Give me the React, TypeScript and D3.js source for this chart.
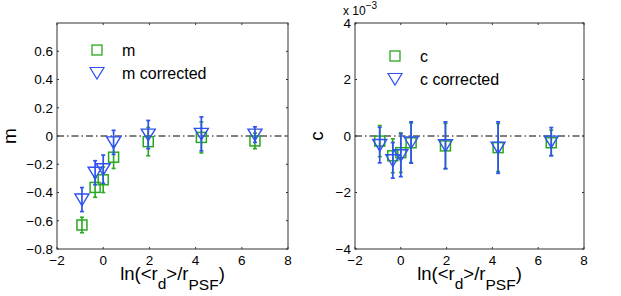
import React from 'react';
import * as d3 from 'd3';

// x positions: ln(<r_d>/r_PSF)
const lnRatio = [-0.92, -0.35, 0.0, 0.45, 1.95, 4.25, 6.57];

// left panel: m
const mVals = [-0.63, -0.364, -0.31, -0.15, -0.04, -0.01, -0.035];
const mErr = [0.055, 0.07, 0.09, 0.08, 0.1, 0.11, 0.055];
const mCorr = [-0.45, -0.26, -0.235, -0.045, 0.01, 0.015, 0.01];
const mCorrErr = [0.085, 0.085, 0.1, 0.085, 0.1, 0.12, 0.055];

// right panel: c (units of 1e-3)
const cVals = [-0.18, -0.7, -0.59, -0.24, -0.35, -0.41, -0.24];
const cErr = [0.55, 0.6, 0.7, 0.7, 0.8, 0.85, 0.45];
const cCorr = [-0.32, -0.86, -0.68, -0.23, -0.33, -0.41, -0.2];
const cCorrErr = [0.63, 0.63, 0.76, 0.73, 0.83, 0.91, 0.5];

const xTicks = [-2, 0, 2, 4, 6, 8];
const mTicks = [-0.8, -0.6, -0.4, -0.2, 0, 0.2, 0.4, 0.6];
const cTicks = [-4, -2, 0, 2, 4];

const GREEN = '#2aa81f';
const BLUE = '#2f52f0';
const FONT = '"Liberation Sans", Arial, sans-serif';

type PanelProps = {
  left: number;
  right: number;
  yDomain: [number, number];
  yTicks: number[];
  yFmt: (v: number) => string;
  ylab: string;
  ylabX: number;
  vals: number[];
  errs: number[];
  corr: number[];
  corrErrs: number[];
  leg: string[];
  legY: number[];
  scaleNote?: boolean;
};

const top = 23;
const bottom = 249;

const Panel = (p: PanelProps) => {
  const x = d3.scaleLinear().domain([-2, 8]).range([p.left, p.right]);
  const y = d3.scaleLinear().domain(p.yDomain).range([bottom, top]);
  const cx = (p.left + p.right) / 2;
  const tri = (px: number, py: number) =>
    `M${px - 7},${py - 5.5}L${px + 7},${py - 5.5}L${px},${py + 6}Z`;

  const errBars = (v: number[], e: number[], color: string, w: number) =>
    v.map((d, i) => {
      const px = x(lnRatio[i]);
      return (
        <g key={i} stroke={color} strokeWidth={w} fill="none">
          <line x1={px} x2={px} y1={y(d - e[i])} y2={y(d + e[i])} />
          <line x1={px - 2} x2={px + 2} y1={y(d - e[i])} y2={y(d - e[i])} />
          <line x1={px - 2} x2={px + 2} y1={y(d + e[i])} y2={y(d + e[i])} />
        </g>
      );
    });

  return (
    <g fontFamily={FONT}>
      {/* zero line */}
      <line x1={p.left} x2={p.right} y1={y(0)} y2={y(0)} stroke="#000" strokeWidth={1}
        strokeDasharray="7,3,1.5,3" />
      {errBars(p.vals, p.errs, GREEN, 1.6)}
      {p.vals.map((d, i) => (
        <rect key={i} x={x(lnRatio[i]) - 5} y={y(d) - 5} width={10} height={10}
          fill="none" stroke={GREEN} strokeWidth={1.5} />
      ))}
      {errBars(p.corr, p.corrErrs, BLUE, 1.7)}
      {p.corr.map((d, i) => (
        <path key={i} d={tri(x(lnRatio[i]), y(d))} fill="none" stroke={BLUE} strokeWidth={1.4} />
      ))}
      {/* legend */}
      <rect x={p.left + 35} y={p.legY[0] - 5} width={10} height={10} fill="none" stroke={GREEN} strokeWidth={1.3} />
      <path d={tri(p.left + 40, p.legY[1])} fill="none" stroke={BLUE} strokeWidth={1.2} />
      <text x={p.left + 65} y={p.legY[0] + 5.5} fontSize={16}>{p.leg[0]}</text>
      <text x={p.left + 65} y={p.legY[1] + 5.5} fontSize={16}>{p.leg[1]}</text>
      {/* box */}
      <rect x={p.left} y={top} width={p.right - p.left} height={bottom - top} fill="none" stroke="#333" strokeWidth={1} />
      {xTicks.map(t => (
        <g key={t}>
          <line x1={x(t)} x2={x(t)} y1={bottom} y2={bottom - 2} stroke="#333" />
          <line x1={x(t)} x2={x(t)} y1={top} y2={top + 2} stroke="#333" />
          <text x={x(t)} y={bottom + 16} fontSize={13.5} textAnchor="middle">{t < 0 ? `\u2212${-t}` : t}</text>
        </g>
      ))}
      {p.yTicks.map(t => (
        <g key={t}>
          <line x1={p.left} x2={p.left + 2} y1={y(t)} y2={y(t)} stroke="#333" />
          <line x1={p.right} x2={p.right - 2} y1={y(t)} y2={y(t)} stroke="#333" />
          <text x={p.left - 4} y={y(t) + 4.8} fontSize={13.5} textAnchor="end">{p.yFmt(t)}</text>
        </g>
      ))}
      <text transform={`translate(${p.ylabX},${(top + bottom) / 2}) rotate(-90)`} fontSize={19} textAnchor="middle">{p.ylab}</text>
      <text x={cx} y={280} fontSize={18.5} textAnchor="middle">
        ln(&lt;r<tspan fontSize={15.5} dy={9}>d</tspan><tspan dy={-9}>&gt;/r</tspan><tspan fontSize={15.5} dy={9.5}>PSF</tspan><tspan dy={-9.5}>)</tspan>
      </text>
      {p.scaleNote && (
        <text x={p.left - 12} y={15} fontSize={12}>
          x 10<tspan fontSize={10} dy={-6}>{'\u22123'}</tspan>
        </text>
      )}
    </g>
  );
};

const fmtM = (v: number) => {
  if (v === 0) return '0';
  const s = Math.abs(v).toFixed(1);
  return v < 0 ? `\u2212${s}` : s;
};
const fmtC = (v: number) => (v < 0 ? `\u2212${-v}` : `${v}`);

export default function App() {
  return (
    <div style={{ position: 'absolute', left: 0, top: 0 }}>
      <svg width={621} height={296} style={{ display: 'block', background: '#fff' }}>
        <Panel left={57} right={288} yDomain={[-0.8, 0.8]} yTicks={mTicks} yFmt={fmtM}
          ylab="m" ylabX={16} vals={mVals} errs={mErr} corr={mCorr} corrErrs={mCorrErr}
          leg={['m', 'm corrected']} legY={[50, 73]} />
        <Panel left={355} right={584} yDomain={[-4, 4]} yTicks={cTicks} yFmt={fmtC}
          ylab="c" ylabX={323} vals={cVals} errs={cErr} corr={cCorr} corrErrs={cCorrErr}
          leg={['c', 'c corrected']} legY={[56, 79]} scaleNote />
      </svg>
    </div>
  );
}
